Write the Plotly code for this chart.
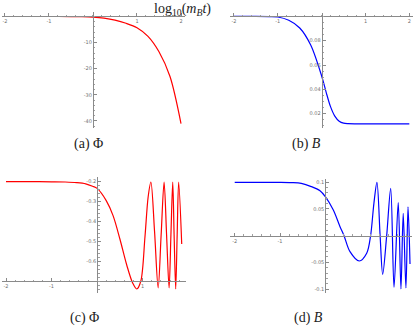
import plotly.graph_objects as go

W, H = 416, 327

# (a) Phi vs log10(m_B t)
phi_a_x = [-2, -1.5, -1, -0.5, -0.25, 0, 0.25, 0.5, 0.75, 1, 1.25, 1.5, 1.75, 2]
phi_a_y = [0, 0, 0, -0.02, -0.08, -0.25, -0.65, -1.4, -2.6, -4.3, -7.6, -13.5, -23, -41]

# (b) B vs log10(m_B t)
b_b_x = [-2, -1.5, -1.2, -1, -0.75, -0.5, -0.25, 0, 0.1, 0.2, 0.3, 0.4, 0.5, 0.6, 0.8, 1.2, 2]
b_b_y = [0.1, 0.1, 0.0998, 0.0995, 0.0968, 0.0905, 0.0765, 0.051, 0.038, 0.026, 0.018,
         0.0138, 0.0122, 0.0118, 0.0117, 0.0117, 0.0117]

# (c) Phi, oscillating
phi_c_x = [-2, -1.5, -1, -0.7, -0.45, -0.25, -0.1, 0, 0.2, 0.35, 0.5, 0.65, 0.78, 0.87,
           0.96, 1.05, 1.12, 1.18, 1.26, 1.34, 1.405, 1.47, 1.525, 1.58, 1.62, 1.66,
           1.69, 1.725, 1.757, 1.79, 1.857]
phi_c_y = [-0.203, -0.203, -0.204, -0.205, -0.208, -0.214, -0.226, -0.237, -0.298, -0.373,
           -0.49, -0.62, -0.71, -0.74, -0.7, -0.48, -0.28, -0.205, -0.45, -0.735, -0.47,
           -0.205, -0.47, -0.735, -0.47, -0.205, -0.47, -0.74, -0.47, -0.205, -0.515]

# (d) B, oscillating
b_d_x = [-2, -1.5, -1, -0.75, -0.53, -0.31, -0.117, 0, 0.177, 0.325, 0.413, 0.545, 0.75,
         0.914, 1.0, 1.073, 1.14, 1.21, 1.267, 1.355, 1.444, 1.517, 1.61, 1.67, 1.72,
         1.78, 1.826, 1.87]
b_d_y = [0.1, 0.1, 0.1, 0.0995, 0.098, 0.092, 0.084, 0.073, 0.048, 0.0168, 0, -0.03,
         -0.0475, -0.033, 0, 0.0606, 0.1, 0, -0.0725, 0, 0.0888, -0.097, 0.062, -0.1,
         0.042, -0.098, 0.054, -0.053]

# tick labels
a_xticks = [-2, -1, 1, 2]
a_yticks = [-10, -20, -30, -40]
b_xticks = [-2, -1, 1, 2]
b_yticks = [0.08, 0.06, 0.04, 0.02]
c_xticks = [-2, -1, 1]
c_yticks = [-0.2, -0.3, -0.4, -0.5, -0.6]
d_xticks = [-2, -1]
d_yticks = [0.1, 0.05, -0.05, -0.1]

captions = ["(a) Φ", "(b) <i>B</i>", "(c) Φ", "(d) <i>B</i>"]

RED = "#ff0000"
BLUE = "#0000ff"
TICKFONT = dict(family="DejaVu Sans", size=5, color="#707070")
SERIF = "Liberation Serif, DejaVu Serif, serif"


def axes(px_x, px_y, xr, yr, ycross, xt, yt, xminor, yminor, ytext):
    xd = [px_x[0] / W, px_x[1] / W]
    yd = [1 - px_y[1] / H, 1 - px_y[0] / H]
    xpos = yd[0] + (ycross - yr[0]) / (yr[1] - yr[0]) * (yd[1] - yd[0])
    ypos = xd[0] + (0 - xr[0]) / (xr[1] - xr[0]) * (xd[1] - xd[0])
    common = dict(showline=True, linecolor="#8a8a8a", linewidth=1, showgrid=False,
                  zeroline=False, ticks="inside", ticklen=3, tickcolor="#8a8a8a",
                  tickwidth=1, tickfont=TICKFONT, anchor="free")
    xa = dict(common, domain=xd, range=xr, position=xpos, tickvals=xt,
              ticktext=[str(v) for v in xt],
              minor=dict(ticks="inside", ticklen=1.5, dtick=xminor, tickcolor="#a0a0a0"))
    ya = dict(common, domain=yd, range=yr, position=ypos, tickvals=yt,
              ticktext=ytext,
              minor=dict(ticks="inside", ticklen=1.5, dtick=yminor, tickcolor="#a0a0a0"))
    return xa, ya


fig = go.Figure()
series = [(phi_a_x, phi_a_y, RED), (b_b_x, b_b_y, BLUE),
          (phi_c_x, phi_c_y, RED), (b_d_x, b_d_y, BLUE)]
for i, (xs, ys, col) in enumerate(series):
    n = "" if i == 0 else str(i + 1)
    fig.add_trace(go.Scatter(x=xs, y=ys, mode="lines", xaxis="x" + n, yaxis="y" + n,
                             line=dict(color=col, width=1.2, shape="spline", smoothing=0.9),
                             showlegend=False, hoverinfo="skip"))

xa1, ya1 = axes((2, 185), (12, 128), [-2.068, 2.091], [-42.7, 1.72], 0,
                a_xticks, a_yticks, 0.2, 2, [str(v) for v in a_yticks])
xa2, ya2 = axes((230, 413), (13, 128), [-2.091, 2.084], [0.00825, 0.1028], 0.1,
                b_xticks, b_yticks, 0.2, 0.005, ["0.08", "0.06", "0.04", "0.02"])
xa3, ya3 = axes((2, 186), (177, 293), [-2.088, 1.951], [-0.76, -0.18], -0.7,
                c_xticks, c_yticks, 0.2, 0.02, ["-0.2", "-0.3", "-0.4", "-0.5", "-0.6"])
xa4, ya4 = axes((230, 412), (179, 293), [-2.104, 1.914], [-0.1075, 0.1062], 0,
                d_xticks, d_yticks, 0.2, 0.01, ["0.1", "0.05", "-0.05", "-0.1"])

fig.update_layout(
    width=W, height=H, margin=dict(l=0, r=0, t=0, b=0),
    paper_bgcolor="white", plot_bgcolor="white",
    xaxis=xa1, yaxis=ya1, xaxis2=xa2, yaxis2=ya2,
    xaxis3=xa3, yaxis3=ya3, xaxis4=xa4, yaxis4=ya4,
)

cap_font = dict(family=SERIF, size=14, color="#222")
cap_pos = [(88, 144), (306, 144), (84, 318), (308, 318)]
for (cx, cy), txt in zip(cap_pos, captions):
    fig.add_annotation(x=cx / W, y=1 - cy / H, xref="paper", yref="paper", text=txt,
                       showarrow=False, font=cap_font, xanchor="center", yanchor="middle")

fig.add_annotation(x=182 / W, y=1.0, xref="paper", yref="paper",
                   text="log<sub>10</sub>(<i>m<sub>B</sub>t</i>)", showarrow=False,
                   font=dict(family=SERIF, size=14, color="#222"), borderpad=0,
                   xanchor="center", yanchor="top")

# the page body has a default 8px margin; drop it so the figure fills the window
fig.write_html("out.html", config={"displayModeBar": False},
               post_script="document.body.style.margin='0';document.body.style.overflow='hidden';")
